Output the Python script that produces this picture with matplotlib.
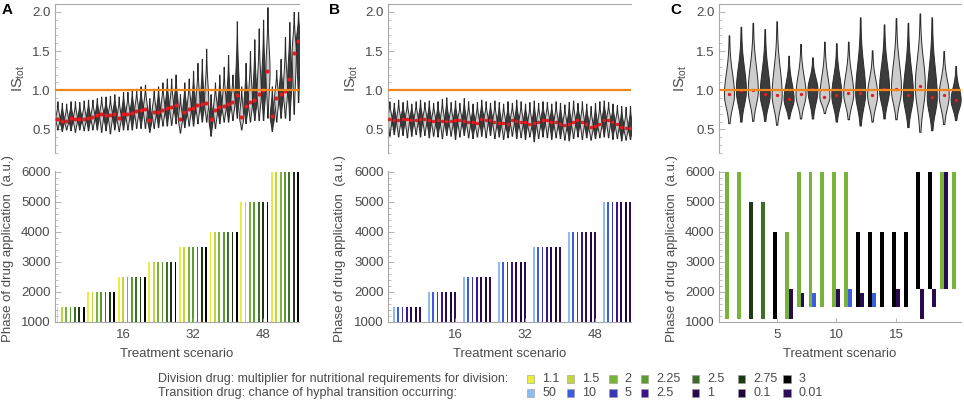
import numpy as np
import matplotlib
matplotlib.use("Agg")
import matplotlib.pyplot as plt
from matplotlib.patches import Rectangle
from matplotlib.ticker import MultipleLocator, FixedLocator

plt.rcParams['font.family'] = ['Liberation Sans', 'DejaVu Sans']
plt.rcParams['mathtext.fontset'] = 'custom'
plt.rcParams['mathtext.rm'] = 'Liberation Sans'

# ---- legend levels / colours
div_levels = ['1.1', '1.5', '2', '2.25', '2.5', '2.75', '3']
div_colors = ['#ecec3a', '#c3d443', '#78b43a', '#5b9a2f', '#3d6f28', '#1d3a14', '#000000']
trans_levels = ['50', '10', '5', '2.5', '1', '0.1', '0.01']
trans_colors = ['#8dbcf2', '#3e5ce0', '#3b36b6', '#3a168c', '#280a50', '#1f073c', '#2c0b58']

# ---- panel A : division drug, 8 application phases x 7 multipliers
A_start = [1500, 2000, 2500, 3000, 3500, 4000, 5000, 6000]
A_median = [0.633, 0.613, 0.613, 0.642, 0.630, 0.638, 0.638,
            0.646, 0.660, 0.680, 0.693, 0.680, 0.680, 0.697,
            0.646, 0.697, 0.693, 0.715, 0.736, 0.745, 0.760,
            0.625, 0.720, 0.728, 0.753, 0.774, 0.783, 0.817,
            0.638, 0.728, 0.757, 0.779, 0.817, 0.821, 0.838,
            0.638, 0.745, 0.787, 0.796, 0.825, 0.855, 0.945,
            0.660, 0.804, 0.847, 0.872, 0.953, 1.008, 1.243,
            0.668, 0.902, 0.953, 0.990, 1.149, 1.477, 1.630]
A_max = [0.86, 0.84, 0.83, 0.86, 0.86, 0.85, 0.87,
         0.88, 0.88, 0.90, 0.92, 0.92, 0.93, 0.95,
         0.92, 0.98, 0.98, 1.00, 1.02, 1.05, 1.07,
         0.90, 1.02, 1.05, 1.10, 1.15, 1.15, 1.20,
         0.95, 1.10, 1.15, 1.25, 1.35, 1.40, 1.53,
         0.95, 1.10, 1.20, 1.30, 1.45, 1.20, 1.88,
         1.05, 1.35, 1.50, 1.65, 1.79, 1.90, 2.06,
         1.05, 1.26, 1.40, 1.68, 1.87, 2.00, 2.00]
A_min = [0.50, 0.48, 0.50, 0.49, 0.47, 0.50, 0.49,
         0.49, 0.50, 0.50, 0.47, 0.49, 0.45, 0.50,
         0.48, 0.50, 0.50, 0.50, 0.52, 0.52, 0.52,
         0.47, 0.52, 0.53, 0.55, 0.55, 0.56, 0.58,
         0.46, 0.53, 0.55, 0.55, 0.58, 0.60, 0.60,
         0.42, 0.52, 0.58, 0.60, 0.60, 0.62, 0.65,
         0.50, 0.58, 0.60, 0.62, 0.62, 0.62, 0.65,
         0.48, 0.60, 0.65, 0.65, 0.62, 0.70, 0.85]

# ---- panel B : transition drug, 7 application phases x 7 chances
B_start = [1500, 2000, 2500, 3000, 3500, 4000, 5000]
B_median = [0.638, 0.625, 0.617, 0.634, 0.634, 0.625, 0.625, 0.634, 0.638, 0.617,
            0.613, 0.617, 0.613, 0.613, 0.608, 0.617, 0.621, 0.608, 0.600, 0.591,
            0.583, 0.634, 0.617, 0.625, 0.600, 0.587, 0.583, 0.574, 0.617, 0.608,
            0.600, 0.596, 0.574, 0.583, 0.591, 0.617, 0.625, 0.600, 0.591, 0.574,
            0.562, 0.566, 0.591, 0.617, 0.591, 0.574, 0.532, 0.549, 0.574, 0.625,
            0.617, 0.591, 0.574, 0.532, 0.519, 0.515]
B_max = [0.86, 0.84, 0.88, 0.85, 0.87, 0.83, 0.86, 0.88, 0.85, 0.87,
         0.84, 0.86, 0.89, 0.91, 0.85, 0.87, 0.84, 0.90, 0.86, 0.83,
         0.85, 0.88, 0.86, 0.84, 0.87, 0.85, 0.83, 0.86, 0.84, 0.88,
         0.86, 0.83, 0.85, 0.87, 0.84, 0.86, 0.85, 0.83, 0.86, 0.84,
         0.82, 0.85, 0.87, 0.84, 0.86, 0.83, 0.80, 0.84, 0.86, 0.87,
         0.85, 0.83, 0.81, 0.80, 0.79, 0.80]
B_min = [0.42, 0.44, 0.41, 0.43, 0.40, 0.42, 0.44, 0.41, 0.43, 0.40,
         0.42, 0.41, 0.39, 0.43, 0.42, 0.38, 0.41, 0.43, 0.40, 0.39,
         0.41, 0.42, 0.40, 0.43, 0.39, 0.41, 0.38, 0.40, 0.42, 0.39,
         0.40, 0.38, 0.41, 0.35, 0.39, 0.41, 0.40, 0.38, 0.40, 0.39,
         0.37, 0.36, 0.39, 0.41, 0.38, 0.40, 0.37, 0.39, 0.40, 0.41,
         0.40, 0.38, 0.39, 0.36, 0.37, 0.38]

# ---- panel C : combined treatments
C_median = [0.95, 1.00, 1.00, 0.95, 0.94, 0.89, 0.95, 1.01, 0.92, 0.94,
            0.96, 0.97, 0.945, 1.01, 1.01, 0.945, 1.06, 0.91, 0.94, 0.88]
C_max = [1.70, 1.81, 1.86, 1.78, 1.88, 1.44, 1.59, 1.42, 1.62, 1.60,
         1.62, 1.93, 1.51, 1.84, 1.92, 1.86, 1.98, 1.93, 1.50, 1.31]
C_min = [0.58, 0.60, 0.61, 0.61, 0.56, 0.64, 0.64, 0.64, 0.71, 0.60,
         0.63, 0.55, 0.60, 0.64, 0.63, 0.53, 0.47, 0.49, 0.57, 0.62]
C_div_level = ['2', '2', '2.75', '2.5', '3', '2', '2', '2', '2', '2',
               '2', '3', '3', '3', '3', '3', '3', '3', '2', '2']
C_div_lo = [1100, 1100, 1100, 1100, 1100, 1100, 1500, 1500, 1500, 1500,
            1500, 1500, 1500, 1500, 1500, 1500, 2100, 2100, 2100, 2100]
C_div_hi = [6000, 6000, 5000, 5000, 4000, 4000, 6000, 6000, 6000, 6000,
            6000, 4000, 4000, 4000, 4000, 4000, 6000, 6000, 6000, 6000]
C_trans_level = [None, None, None, None, None, '1', '1', '10', None, '1',
                 '10', '1', '10', None, '1', None, '1', '1', '1', None]
C_trans_lo = [None, None, None, None, None, 1100, 1500, 1500, None, 1500,
              1500, 1500, 1500, None, 1500, None, 1100, 1500, 2100, None]
C_trans_hi = [None, None, None, None, None, 2100, 1950, 1950, None, 2100,
              2100, 1950, 1950, None, 2100, None, 2100, 2100, 6000, None]

W, H = 964, 405
fig = plt.figure(figsize=(W / 100, H / 100), dpi=100)

TXT = '#4a4a4a'
SPN = '#a8a8a8'
ORANGE = '#f2861c'
RED = '#e8191f'


def add_ax(left, top, right, bottom):
    return fig.add_axes([left / W, 1 - bottom / H, (right - left) / W, (bottom - top) / H])


def violin_shape(lo, med, hi):
    # outline of a violin from its min / median / max
    y = np.linspace(lo, hi, 160)
    s = np.where(y >= med, (hi - med) / 2.8, (med - lo) / 2.2)
    v = np.exp(-0.5 * ((y - med) / s) ** 2) + 0.05
    return dict(coords=y, vals=v, mean=med, median=med, min=lo, max=hi, quantiles=[])


def style_top(ax, xlim):
    ax.set_xlim(*xlim)
    ax.set_ylim(0.2, 2.1)
    for s in ['right', 'bottom']:
        ax.spines[s].set_visible(False)
    for s in ['left', 'top']:
        ax.spines[s].set_color(SPN)
        ax.spines[s].set_linewidth(0.8)
    ax.set_yticks([0.5, 1.0, 1.5, 2.0])
    ax.yaxis.set_minor_locator(MultipleLocator(0.1))
    ax.tick_params(axis='y', which='major', direction='in', length=4, width=0.6,
                   color=SPN, labelcolor=TXT, labelsize=9.5, pad=3)
    ax.tick_params(axis='y', which='minor', direction='in', length=2, width=0.5, color=SPN)
    ax.tick_params(axis='x', which='both', bottom=False, top=False, labelbottom=False)
    ax.axhline(1.0, color=ORANGE, lw=1.6, zorder=5)


def style_bottom(ax, xlim, xticks):
    ax.set_xlim(*xlim)
    ax.set_ylim(1000, 6030)
    for s in ['right', 'top']:
        ax.spines[s].set_visible(False)
    for s in ['left', 'bottom']:
        ax.spines[s].set_color(SPN)
        ax.spines[s].set_linewidth(0.8)
    ax.set_yticks([1000, 2000, 3000, 4000, 5000, 6000])
    ax.yaxis.set_minor_locator(MultipleLocator(200))
    ax.xaxis.set_major_locator(FixedLocator(xticks))
    ax.tick_params(axis='y', which='major', direction='in', length=4, width=0.6,
                   color=SPN, labelcolor=TXT, labelsize=9.5, pad=3)
    ax.tick_params(axis='y', which='minor', direction='in', length=2, width=0.5, color=SPN)
    ax.tick_params(axis='x', which='major', direction='in', length=3, width=0.6,
                   color=SPN, labelcolor=TXT, labelsize=9.5, pad=5)


def draw_violins(ax, x, med, lo, hi, width, ms):
    stats = [violin_shape(l, m, h) for l, m, h in zip(lo, med, hi)]
    parts = ax.violin(stats, positions=x, widths=width, showmeans=False,
                      showextrema=False, showmedians=False)
    for i, body in enumerate(parts['bodies']):
        body.set_facecolor('#cccccc' if i % 2 == 0 else '#3c3c3c')
        body.set_edgecolor('#2a2a2a')
        body.set_linewidth(0.7)
        body.set_alpha(1)
        body.set_zorder(2)
    ax.plot(x, med, 'o', color=RED, ms=ms, mew=0, zorder=4)


# ---------------- panel A
a_l, a_r = 54.8, 299.4
axA1 = add_ax(a_l, 4, a_r, 153)
axA2 = add_ax(a_l, 170.8, a_r, 321.7)
a_x = np.arange(1, len(A_median) + 1)
style_top(axA1, (0.4, 56.3))
draw_violins(axA1, a_x, A_median, A_min, A_max, 0.95, 3.0)

a_top = np.repeat(A_start, len(div_levels))
a_col = div_colors * len(A_start)
axA2.bar(a_x, a_top - 1000, bottom=1000, width=0.42, color=a_col, linewidth=0)
style_bottom(axA2, (0.4, 56.3), [16, 32, 48])

# ---------------- panel B
b_l, b_r = 388.1, 631.3
axB1 = add_ax(b_l, 4, b_r, 153)
axB2 = add_ax(b_l, 170.8, b_r, 321.7)
b_vx = np.arange(1, len(B_median) + 1)
style_top(axB1, (0.7, 56.3))
draw_violins(axB1, b_vx, B_median, B_min, B_max, 0.95, 2.6)

b_x = [8 * g + j + 2 for g in range(len(B_start)) for j in range(len(trans_levels))]
b_top = np.repeat(B_start, len(trans_levels))
b_col = trans_colors * len(B_start)
axB2.bar(b_x, b_top - 1000, bottom=1000, width=0.42, color=b_col, linewidth=0)
style_bottom(axB2, (0.7, 56.3), [16, 32, 48])

# ---------------- panel C
c_l, c_r = 718.8, 961.0
axC1 = add_ax(c_l, 4, c_r, 153)
axC2 = add_ax(c_l, 170.8, c_r, 321.7)
c_x = np.arange(1, len(C_median) + 1)
style_top(axC1, (0.15, 20.45))
draw_violins(axC1, c_x, C_median, C_min, C_max, 0.84, 2.4)

div_map = dict(zip(div_levels, div_colors))
trans_map = dict(zip(trans_levels, trans_colors))
c_lo = np.array(C_div_lo)
c_hi = np.array(C_div_hi)
axC2.bar(c_x, c_hi - c_lo, bottom=c_lo, width=-0.33, align='edge',
         color=[div_map[v] for v in C_div_level], linewidth=0)
t_idx = [i for i, v in enumerate(C_trans_level) if v is not None]
t_lo = np.array([C_trans_lo[i] for i in t_idx])
t_hi = np.array([C_trans_hi[i] for i in t_idx])
axC2.bar(c_x[t_idx], t_hi - t_lo, bottom=t_lo, width=0.33, align='edge',
         color=[trans_map[C_trans_level[i]] for i in t_idx], linewidth=0)
style_bottom(axC2, (0.15, 20.45), [5, 10, 15])

# ---------------- labels
def ftext(x, y, s, **kw):
    fig.text(x / W, 1 - y / H, s, **kw)


for letter, lx in [('A', 7.5), ('B', 335), ('C', 675.5)]:
    ftext(lx, 10, letter, fontsize=11, fontweight='bold', color='black', ha='center', va='center')

for ix, px, cx in [(19, 8.5, (a_l + a_r) / 2), (352, 340, (b_l + b_r) / 2), (681, 672, (c_l + c_r) / 2)]:
    ftext(ix, 78.5, r'IS$_{\mathrm{tot}}$', fontsize=10.5, color=TXT, rotation=90, ha='center', va='center')
    ftext(px, 249, 'Phase of drug application  (a.u.)', fontsize=9.5, color=TXT,
          rotation=90, ha='center', va='center')
    ftext(cx, 354, 'Treatment scenario', fontsize=9.5, color=TXT, ha='center', va='center')

# ---------------- legend
leg = fig.add_axes([0, 0, 1, 1])
leg.set_xlim(0, W)
leg.set_ylim(H, 0)
leg.axis('off')
col_x = [526.7, 566.7, 609.3, 641.0, 691.7, 737.7, 783.3]
rows = [(379, 'Division drug: multiplier for nutritional requirements for division:', div_levels, div_colors),
        (393, 'Transition drug: chance of hyphal transition occurring:', trans_levels, trans_colors)]
for ry, title, levels, colors in rows:
    leg.text(158, ry, title, fontsize=9.0, color=TXT, ha='left', va='center')
    for cx, lab, col in zip(col_x, levels, colors):
        leg.add_patch(Rectangle((cx, ry - 3.6), 7.2, 7.2, facecolor=col,
                                edgecolor='#9a9a9a', linewidth=0.4))
        leg.text(cx + 15.5, ry, lab, fontsize=9.0, color=TXT, ha='left', va='center')

fig.savefig('out.png', dpi=100)
